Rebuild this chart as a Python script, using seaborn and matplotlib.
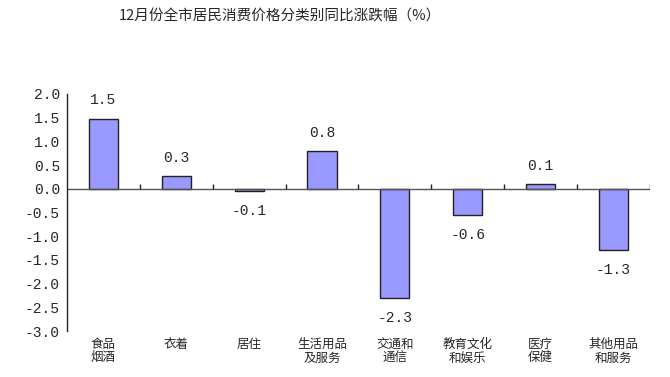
import seaborn as sns
import matplotlib.pyplot as plt
import pandas as pd

categories = ['食品\n烟酒', '衣着', '居住', '生活用品\n及服务', '交通和\n通信', '教育文化\n和娱乐', '医疗\n保健', '其他用品\n和服务']
values = [1.48, 0.27, -0.05, 0.79, -2.31, -0.56, 0.10, -1.30]
value_labels = ['1.5', '0.3', '-0.1', '0.8', '-2.3', '-0.6', '0.1', '-1.3']
yticks = [2.0, 1.5, 1.0, 0.5, 0.0, -0.5, -1.0, -1.5, -2.0, -2.5, -3.0]

sns.set_style('white')
plt.rcParams['font.family'] = ['Noto Sans CJK SC', 'DejaVu Sans']
plt.rcParams['axes.unicode_minus'] = False

df = pd.DataFrame({'cat': categories, 'val': values})

fig = plt.figure(figsize=(6.7, 3.77), dpi=100)
ax = fig.add_axes([0.1, 0.122, 0.87, 0.629])
sns.barplot(data=df, x='cat', y='val', color='#9999FF', saturation=1,
            edgecolor='#222222', linewidth=1.0, width=0.4, ax=ax)

ax.set_ylim(-3.0, 2.0)
ax.set_xlim(-0.5, len(categories) - 0.5)
ax.set_yticks(yticks)
ax.set_yticklabels([f'{t:.1f}' for t in yticks], fontsize=10.5, family='Liberation Mono')
ax.tick_params(axis='y', direction='in', length=5, width=1, color='#222222', pad=5)
ax.tick_params(axis='x', length=0, pad=5, labelsize=9)
for t in ax.get_xticklabels():
    t.set_linespacing(1.05)
ax.set_xlabel('')
ax.set_ylabel('')

for s in ['top', 'right', 'bottom']:
    ax.spines[s].set_visible(False)
ax.spines['left'].set_color('#222222')
ax.spines['left'].set_linewidth(1)

# zero line with category separator ticks
ax.axhline(0, color='#555555', linewidth=1, zorder=1)
ax.vlines([i + 0.5 for i in range(len(categories))], 0, 0.1, color='#222222', linewidth=1)

for i, (v, lab) in enumerate(zip(values, value_labels)):
    off = 13 if v >= 0 else -14
    ax.annotate(lab, (i, v), xytext=(0, off), textcoords='offset points',
                ha='center', va='center', fontsize=10.5, family='Liberation Mono')

fig.text(0.418, 0.955, '12月份全市居民消费价格分类别同比涨跌幅（%）', ha='center', va='center', fontsize=10.5)

fig.savefig('out.png', dpi=100)
